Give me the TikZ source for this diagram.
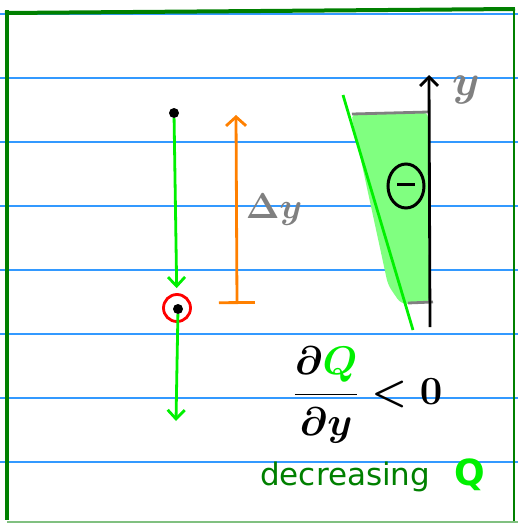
\RequirePackage{fix-cm}
\documentclass[tikz,border=0pt]{standalone}
\usepackage{amsmath}
\usepackage{fontspec}
\setmainfont{DejaVu Sans}
\usepackage{tikz}
\usetikzlibrary{arrows.meta,positioning,shapes.geometric}
\definecolor{ruleblue}{RGB}{51,153,255}
\definecolor{frame}{RGB}{0,128,0}
\definecolor{brightgreen}{RGB}{0,240,0}
\definecolor{paleleaf}{RGB}{128,255,128}
\definecolor{amber}{RGB}{255,128,0}
\definecolor{pencil}{RGB}{128,128,128}
\tikzset{
  ruled/.style={line width=1.2pt,ruleblue},
  border/.style={line width=4pt,frame},
  flow/.style={line width=2.8pt,brightgreen,-{Straight Barb[length=9pt,width=17pt]}},
  span/.style={line width=2.8pt,amber,{Bar[width=36pt]}-{Straight Barb[length=9pt,width=20pt]}},
  yaxis/.style={line width=2.8pt,black,-{Straight Barb[length=9pt,width=18pt]}},
  hand/.style={font=\fontsize{36}{40}\selectfont\boldmath},
  dot/.style={circle,fill=black,inner sep=0pt,minimum size=10pt},
  ring/.style={circle,draw=red,line width=2.8pt,minimum size=27pt,inner sep=0pt}
}

\begin{document}
\begin{tikzpicture}[x=1pt,y=-1pt]
  \useasboundingbox (0,0) rectangle (518,523);
  % ruled paper
  \foreach \ly in {14,78,...,462}
    \draw[ruled] (0,\ly) -- (518,\ly);
  % page frame
  \draw[border] (7,10) -- (7,520);
  \draw[border] (5,13) -- (515,9);
  \draw[border,line width=2.5pt] (514,8) -- (514,522);
  \draw[frame!50,line width=1.5pt] (7,522) -- (518,522);

  % path of the particle
  \node[dot] (start) at (174,113) {};
  \node[dot] (here) at (178,309) {};
  \node[ring] (mark) at (177,308) {};
  \coordinate (below) at (176,421);
  \draw[flow,shorten >=5pt] (start) -- (mark);
  \draw[flow] (here) -- (below);

  % step in y
  \coordinate (dylo) at (237,304);
  \coordinate (dyhi) at (236,115);
  \draw[span] (dylo) -- (dyhi);
  \node[hand,text=pencil] (dy) at (274,210) {$\Delta y$};

  % Q against y
  \fill[paleleaf,rounded corners=6pt] (351,114) -- (428,112) -- (429,303) -- (401,304) -- (388,285) -- cycle;
  \draw[pencil,line width=2.8pt] (352,114) -- (428,112);
  \draw[pencil,line width=2.8pt] (408,303) -- (433,302);
  \coordinate (ylo) at (430,327);
  \coordinate (yhi) at (429,75);
  \draw[yaxis] (ylo) -- (yhi);
  \node[hand,text=pencil,font=\fontsize{44}{48}\selectfont\boldmath] (ylab) at (466,90) {$y$};
  \draw[brightgreen,line width=2.8pt] (343,95) -- (413,330);
  \node[ellipse,draw,line width=3pt,minimum width=36pt,minimum height=44pt,inner sep=0pt] (neg) at (406,186) {\rule[4pt]{18pt}{3pt}};

  \node[hand,font=\fontsize{40}{44}\selectfont\boldmath] (rate) at (368,395) {$\dfrac{\partial\textcolor{brightgreen}{Q}}{\partial y} < 0$};
  \node[anchor=base west,text=frame,font=\fontsize{31}{36}\selectfont,inner sep=0pt] (dec) at (260,485) {decreasing};
  \node[anchor=base west,text=brightgreen,font=\fontsize{36}{40}\selectfont\bfseries,inner sep=0pt] (decq) at ([xshift=24pt]dec.base east) {Q};
\end{tikzpicture}
\end{document}
